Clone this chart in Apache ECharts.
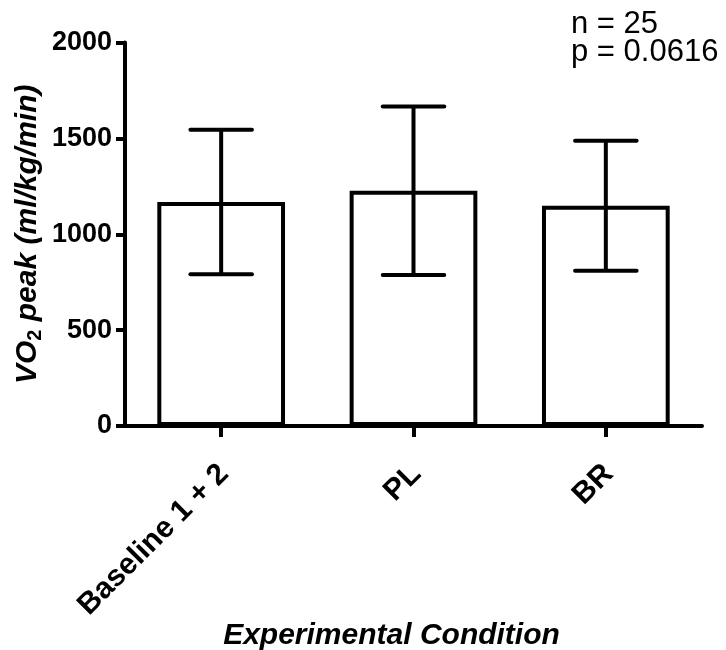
<!DOCTYPE html>
<html>
<head>
<meta charset="utf-8">
<title>VO2 peak by experimental condition</title>
<script src="https://cdn.jsdelivr.net/npm/echarts@6/dist/echarts.min.js"></script>
<style>
  html, body { margin: 0; padding: 0; background: #fff; }
  #chart { width: 726px; height: 650px; }
</style>
</head>
<body>
<div id="chart"></div>
<script>
// Conditions and group statistics (mean ± SD), n = 25
const categories = ['Baseline 1 + 2', 'PL', 'BR'];
const means = [1168, 1227, 1148];
const sds = [377, 439, 339];
const yTicks = [0, 500, 1000, 1500, 2000];
const annotation = ['n = 25', 'p = 0.0616'];

const FONT = 'Liberation Sans, Arial, Helvetica, sans-serif';
const INK = '#000000';

const chart = echarts.init(document.getElementById('chart'), null, { renderer: 'canvas' });

const errorData = categories.map((c, i) => [i, means[i], sds[i]]);

// Mean ± SD whisker with flat caps
function renderErrorBar(params, api) {
  const idx = api.value(0);
  const m = api.value(1);
  const s = api.value(2);
  const top = api.coord([idx, m + s]);
  const bot = api.coord([idx, m - s]);
  const half = api.size([1, 0])[0] * 0.16;
  const capStyle = { stroke: INK, lineWidth: 4, lineCap: 'round', fill: null };
  return {
    type: 'group',
    children: [
      { type: 'line', shape: { x1: top[0], y1: top[1], x2: bot[0], y2: bot[1] }, style: { stroke: INK, lineWidth: 4 } },
      { type: 'line', shape: { x1: top[0] - half, y1: top[1], x2: top[0] + half, y2: top[1] }, style: capStyle },
      { type: 'line', shape: { x1: bot[0] - half, y1: bot[1], x2: bot[0] + half, y2: bot[1] }, style: capStyle }
    ]
  };
}

const option = {
  backgroundColor: '#ffffff',
  animation: false,
  textStyle: { fontFamily: FONT, color: INK },
  title: {
    text: annotation.join('\n'),
    left: 571,
    top: 10,
    padding: 0,
    textStyle: {
      fontFamily: FONT,
      fontSize: 31,
      fontWeight: 'normal',
      lineHeight: 28,
      color: INK
    }
  },
  grid: {
    left: 125,
    right: 24,
    top: 42.5,
    bottom: 224,
    containLabel: false,
    outerBoundsMode: 'none'
  },
  xAxis: {
    type: 'category',
    data: categories,
    boundaryGap: true,
    axisLine: { show: true, lineStyle: { color: INK, width: 4 } },
    axisTick: { show: true, alignWithLabel: true, length: 11, lineStyle: { color: INK, width: 4 } },
    axisLabel: {
      interval: 0,
      rotate: 45,
      align: 'right',
      verticalAlign: 'top',
      margin: 25,
      padding: [0, 11, 0, 0],
      fontFamily: FONT,
      fontSize: 30,
      fontWeight: 'bold',
      color: INK
    },
    splitLine: { show: false },
    name: 'Experimental Condition',
    nameLocation: 'middle',
    nameGap: 195,
    nameMoveOverlap: false,
    nameTextStyle: {
      fontFamily: FONT,
      fontSize: 30,
      fontWeight: 'bold',
      fontStyle: 'italic',
      color: INK,
      padding: [0, 44, 0, 0]
    }
  },
  yAxis: {
    type: 'value',
    min: yTicks[0],
    max: yTicks[yTicks.length - 1],
    interval: yTicks[1] - yTicks[0],
    axisLine: { show: true, lineStyle: { color: INK, width: 4 } },
    axisTick: { show: true, length: 9, lineStyle: { color: INK, width: 4 } },
    axisLabel: {
      margin: 13,
      formatter: (v) => String(v),
      fontFamily: FONT,
      fontSize: 27,
      fontWeight: 'bold',
      color: INK
    },
    splitLine: { show: false },
    name: '{a|VO}{s|2}{a| peak (ml/kg/min)}',
    nameLocation: 'middle',
    nameGap: 80,
    nameMoveOverlap: false,
    nameTextStyle: {
      fontFamily: FONT,
      fontSize: 30,
      fontWeight: 'bold',
      fontStyle: 'italic',
      color: INK,
      rich: {
        a: {
          fontFamily: FONT,
          fontSize: 30,
          fontWeight: 'bold',
          fontStyle: 'italic',
          color: INK,
          lineHeight: 34,
          verticalAlign: 'middle'
        },
        s: {
          fontFamily: FONT,
          fontSize: 20,
          fontWeight: 'bold',
          fontStyle: 'normal',
          color: INK,
          lineHeight: 20,
          verticalAlign: 'bottom'
        }
      }
    }
  },
  series: [
    {
      type: 'bar',
      data: means,
      barWidth: '66.4%',
      itemStyle: { color: '#ffffff', borderColor: INK, borderWidth: 4 },
      emphasis: { disabled: true },
      z: 2
    },
    {
      type: 'custom',
      data: errorData,
      renderItem: renderErrorBar,
      encode: { x: 0, y: 1 },
      z: 3,
      silent: true
    }
  ]
};

chart.setOption(option);
</script>
</body>
</html>
